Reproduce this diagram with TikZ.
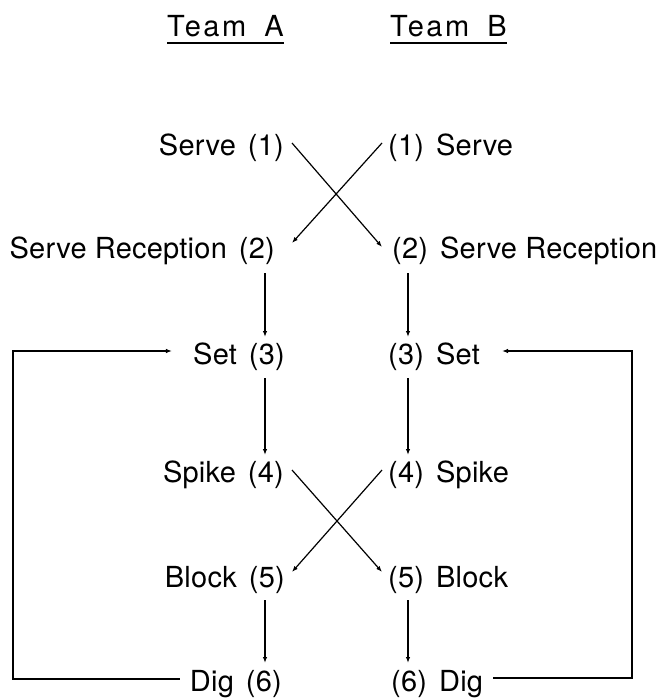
\documentclass[tikz,border=0pt]{standalone}
\usepackage{fontspec}
\setmainfont{TeX Gyre Heros}
\usetikzlibrary{arrows.meta,calc}
\newcommand{\ngap}{\hspace{12pt}}
\begin{document}
\begin{tikzpicture}[x=1pt,y=-1pt,
  lbl/.style={inner sep=0pt,font=\fontsize{29}{34}\selectfont\addfontfeatures{LetterSpace=0.8}},
  ttl/.style={inner sep=0pt,font=\fontsize{29}{34}\selectfont\addfontfeatures{LetterSpace=9}},
  arr/.style={line width=1.2pt,-{Latex[length=6pt,width=4.5pt]}},
  loopline/.style={line width=1.5pt,-{Latex[length=6pt,width=4.5pt]}},
  uline/.style={line width=1.1pt}]
\useasboundingbox (0,0) rectangle (662,698);
% titles
\node[ttl,anchor=base west] (ta) at (167,37) {Team\hspace{18pt}A};
\node[ttl,anchor=base west] (tb) at (390,37) {Team\hspace{18pt}B};
\draw[uline] ($(ta.base west)+(0,6)$) -- ($(ta.base east)+(0,6)$);
\draw[uline] ($(tb.base west)+(0,6)$) -- ($(tb.base east)+(0,6)$);
% team A
\node[lbl,anchor=base east] (s1a) at (284,155) {Serve\ngap(1)};
\node[lbl,anchor=base east] (s2a) at (275,258) {Serve Reception\ngap(2)};
\node[lbl,anchor=base east] (s3a) at (285,364) {Set\ngap(3)};
\node[lbl,anchor=base east] (s4a) at (284,482) {Spike\ngap(4)};
\node[lbl,anchor=base east] (s5a) at (285,587) {Block\ngap(5)};
\node[lbl,anchor=base east] (s6a) at (282,691) {Dig\ngap(6)};
% team B
\node[lbl,anchor=base west] (s1b) at (388,155) {(1)\ngap Serve};
\node[lbl,anchor=base west] (s2b) at (392,258) {(2)\ngap Serve Reception};
\node[lbl,anchor=base west] (s3b) at (388,364) {(3)\ngap Set};
\node[lbl,anchor=base west] (s4b) at (388,482) {(4)\ngap Spike};
\node[lbl,anchor=base west] (s5b) at (388,587) {(5)\ngap Block};
\node[lbl,anchor=base west] (s6b) at (391,691) {(6)\ngap Dig};
% columns
\coordinate (xL) at (265,0);
\coordinate (xR) at (408,0);
\coordinate (xLL) at (13,0);
\coordinate (xRR) at (632,0);
% serve cross
\draw[arr] ($(s1a.base east)+(8,-12)$) -- ($(s2b.base west)+(-10,-11)$);
\draw[arr] ($(s1b.base west)+(-6,-12)$) -- ($(s2a.base east)+(17,-15)$);
% verticals team A
\draw[arr] ($(s2a.base -| xL)+(0,15)$) -- ($(s3a.base -| xL)+(0,-27)$);
\draw[arr] ($(s3a.base -| xL)+(0,14)$) -- ($(s4a.base -| xL)+(0,-27)$);
\draw[arr] ($(s5a.base -| xL)+(0,13)$) -- ($(s6a.base -| xL)+(0,-28)$);
% verticals team B
\draw[arr] ($(s2b.base -| xR)+(0,15)$) -- ($(s3b.base -| xR)+(0,-27)$);
\draw[arr] ($(s3b.base -| xR)+(0,14)$) -- ($(s4b.base -| xR)+(0,-27)$);
\draw[arr] ($(s5b.base -| xR)+(0,13)$) -- ($(s6b.base -| xR)+(0,-28)$);
% spike/block cross
\draw[arr] ($(s4a.base east)+(8,-12)$) -- ($(s5b.base west)+(-6,-15)$);
\draw[arr] ($(s4b.base west)+(-6,-12)$) -- ($(s5a.base east)+(7,-15)$);
% feedback loops
\coordinate (la) at ($(s6a.base west)+(-10,-12)$);
\coordinate (lb) at ($(s3a.base west)+(-21,-13)$);
\draw[loopline] (la) -| (xLL |- lb) -- (lb);
\coordinate (ra) at ($(s6b.base east)+(10,-13)$);
\coordinate (rb) at ($(s3b.base east)+(22,-13)$);
\draw[loopline] (ra) -| (xRR |- rb) -- (rb);
\end{tikzpicture}
\end{document}
